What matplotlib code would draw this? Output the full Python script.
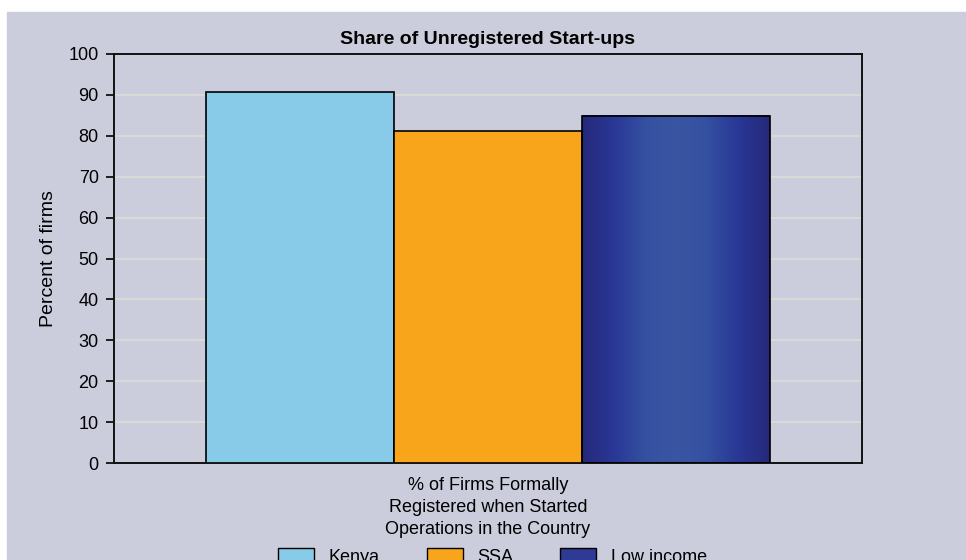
import matplotlib

matplotlib.use("Agg")
import matplotlib.pyplot as plt
import numpy as np
from matplotlib.colors import LinearSegmentedColormap
from matplotlib.patches import Patch, Rectangle

# données
categories = ["Kenya", "SSA", "Low income"]
values = [90.7, 81.2, 84.9]
colors = ["#87CBE8", "#F8A51C", "#2E3A93"]
group_label = "% of Firms Formally\nRegistered when Started\nOperations in the Country"
yticks = list(range(0, 101, 10))

BG = "#CBCCDC"
plt.rcParams["font.family"] = ["Liberation Sans", "DejaVu Sans"]

fig = plt.figure(figsize=(9.66, 5.6), dpi=100, facecolor="white")
# fond gris-bleu avec marge blanche en haut et à gauche
fig.patches.append(Rectangle((7 / 966, 0), 1, (560 - 12) / 560,
                             transform=fig.transFigure, color=BG, zorder=-10))

ax = fig.add_axes([114 / 966, 1 - 463 / 560, (862 - 114) / 966, (463 - 54) / 560])
ax.set_facecolor(BG)

x = np.arange(len(categories))
grad = LinearSegmentedColormap.from_list(
    "navy", ["#26297A", "#293796", "#3450A0", "#3A56A2", "#3450A0", "#293796", "#26297A"])

for i, (v, c) in enumerate(zip(values, colors)):
    if i == 2:
        img = np.linspace(0, 1, 256).reshape(1, -1)
        ax.imshow(img, cmap=grad, aspect="auto", extent=[x[i] - 0.5, x[i] + 0.5, 0, v],
                  zorder=2)
        ax.bar(x[i], v, width=1.0, facecolor="none", edgecolor="black", lw=1.2, zorder=3)
    else:
        ax.bar(x[i], v, width=1.0, color=c, edgecolor="black", lw=1.2, zorder=3)

ax.set_xlim(-0.99, 2.99)
ax.set_ylim(0, 100)
ax.set_yticks(yticks)
ax.tick_params(axis="y", labelsize=13, length=6, width=1.2, direction="out", pad=5)
ax.set_xticks([])
ax.grid(axis="y", color="#DCDCD4", lw=1.2, zorder=0)
ax.set_axisbelow(True)
for s in ax.spines.values():
    s.set_color("#111111")
    s.set_linewidth(1.4)

ax.set_ylabel("Percent of firms", fontsize=14, labelpad=8)
ax.set_title("Share of Unregistered Start-ups", fontsize=14, fontweight="bold", pad=7)
ax.text(1, -3.5, group_label, ha="center", va="top", fontsize=13, linespacing=1.38,
        transform=ax.transData, clip_on=False)

handles = [Patch(facecolor=colors[i], edgecolor="black", label=categories[i])
           for i in range(len(categories))]
fig.legend(handles=handles, loc="upper center", bbox_to_anchor=(0.51, 0.05), ncol=3,
           frameon=False, fontsize=13, handlelength=2.0, handleheight=0.9,
           columnspacing=2.6, handletextpad=0.8)

fig.savefig("out.png", dpi=100, facecolor=fig.get_facecolor())
